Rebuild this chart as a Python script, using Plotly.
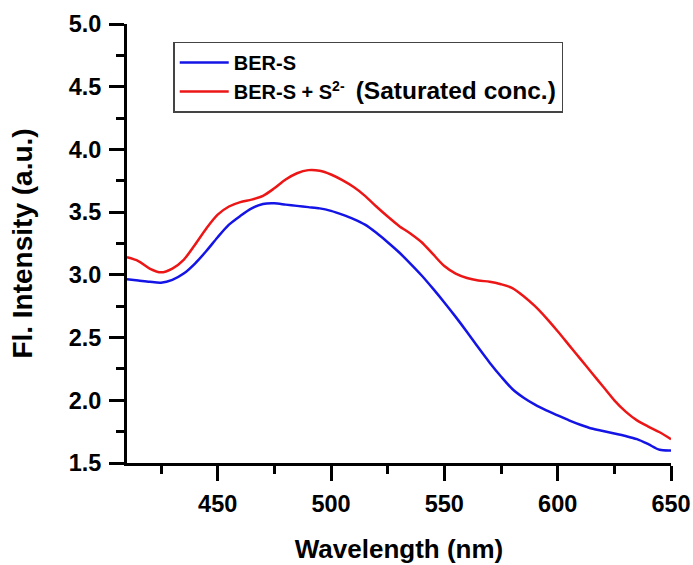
import plotly.graph_objects as go

wavelength = [410, 415, 420, 425, 430, 435, 440, 445, 450, 455, 460, 465, 470, 475, 480,
              485, 490, 495, 500, 505, 510, 515, 520, 525, 530, 535, 540, 545, 550, 555,
              560, 565, 570, 575, 580, 585, 590, 595, 600, 605, 610, 615, 620, 625, 630,
              635, 640, 645, 650]

ber_s = [2.965, 2.955, 2.945, 2.938, 2.96, 3.01, 3.09, 3.19, 3.30, 3.40, 3.47, 3.53, 3.565,
         3.57, 3.56, 3.55, 3.54, 3.53, 3.51, 3.48, 3.445, 3.40, 3.335, 3.26, 3.18, 3.09,
         2.995, 2.89, 2.78, 2.665, 2.545, 2.42, 2.30, 2.19, 2.09, 2.02, 1.965, 1.92, 1.88,
         1.84, 1.805, 1.775, 1.755, 1.735, 1.715, 1.69, 1.65, 1.605, 1.60]

ber_s_sulfide = [3.14, 3.11, 3.05, 3.02, 3.05, 3.12, 3.24, 3.37, 3.48, 3.545, 3.58, 3.60,
                 3.63, 3.69, 3.76, 3.81, 3.835, 3.83, 3.80, 3.755, 3.70, 3.63, 3.545, 3.465,
                 3.39, 3.33, 3.26, 3.165, 3.07, 3.01, 2.975, 2.955, 2.945, 2.925, 2.895, 2.83,
                 2.75, 2.655, 2.55, 2.44, 2.33, 2.22, 2.11, 2.0, 1.91, 1.84, 1.79, 1.745, 1.69]

names = ["BER-S",
         "BER-S + S<sup>2-</sup>\u00a0 <span style=\"font-size:24.5px\">(Saturated conc.)</span>"]
colors = ["#1414e6", "#ec1616"]

FONT = "Liberation Sans, Arial, sans-serif"

fig = go.Figure()
for y, name, c in zip([ber_s, ber_s_sulfide], names, colors):
    fig.add_trace(go.Scatter(x=wavelength, y=y, mode="lines", name=name,
                             line=dict(color=c, width=2.5, shape="spline", smoothing=0.8)))

axis_common = dict(
    showline=True, linecolor="black", linewidth=3, mirror=False,
    ticks="outside", ticklen=15, tickwidth=2.5, tickcolor="black",
    showgrid=False, zeroline=False, automargin=False,
    tickfont=dict(family=FONT, size=23.5, color="black", weight="bold"),
)

fig.update_xaxes(range=[410, 650], tick0=450, dtick=50, ticklabelstandoff=3,
                 minor=dict(ticks="outside", ticklen=8, tickwidth=2.5, tickcolor="black", dtick=25, tick0=450),
                 title=dict(text="Wavelength (nm)", font=dict(family=FONT, size=26, color="black", weight="bold"), standoff=24),
                 **axis_common)
fig.update_yaxes(range=[1.5, 5.0], tick0=1.5, dtick=0.5, tickformat=".1f", ticklabelstandoff=3,
                 minor=dict(ticks="outside", ticklen=8, tickwidth=2.5, tickcolor="black", dtick=0.25, tick0=1.5),
                 title=dict(text="Fl. Intensity (a.u.)", font=dict(family=FONT, size=28, color="black", weight="bold"), standoff=28),
                 **axis_common)

fig.update_layout(
    width=693, height=565,
    margin=dict(l=127, r=22, t=24, b=102),
    plot_bgcolor="white", paper_bgcolor="white",
    legend=dict(x=0.085, y=0.96, xanchor="left", yanchor="top",
                bordercolor="#444", borderwidth=1.5, bgcolor="white",
                font=dict(family=FONT, size=20, color="black", weight="bold"),
                itemwidth=49),
)

fig.write_html("out.html")
